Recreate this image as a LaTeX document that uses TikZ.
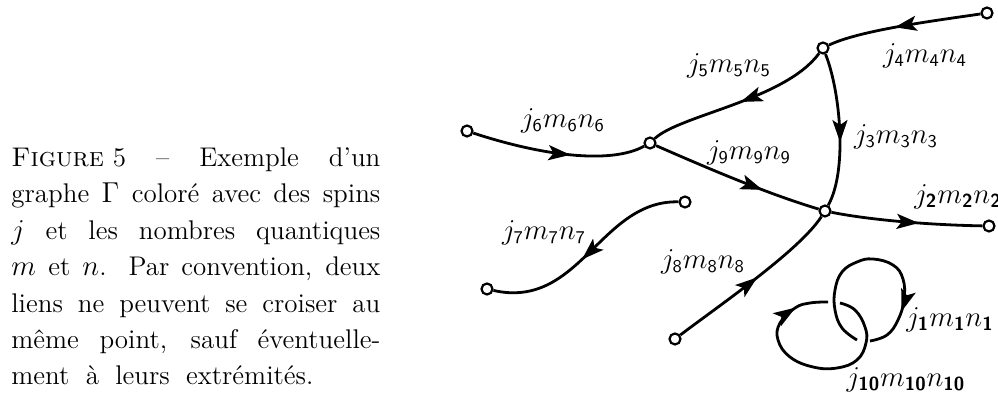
\documentclass[tikz,border=0pt]{standalone}
\usepackage{amsmath}
\usetikzlibrary{arrows.meta,decorations.markings}
\newcommand{\bsf}[1]{\text{\sffamily\bfseries #1}}
\tikzset{
  edge/.style={line width=1.4pt},
  vtx/.style={circle, draw, fill=white, line width=1.1pt, inner sep=0pt, minimum size=5.5pt},
  midarrow/.style={postaction={decorate}, decoration={markings, mark=at position #1 with {\arrow{Stealth[length=11pt,width=7.5pt,inset=2.5pt]}}}},
  lab/.style={inner sep=0pt, font=\fontsize{13.5pt}{16pt}\selectfont},
  capline/.style={anchor=base west, inner sep=0pt, font=\fontsize{13.5pt}{18pt}\selectfont}
}
\begin{document}
\begin{tikzpicture}[x=0.5pt,y=-0.5pt]
\useasboundingbox (0,0) rectangle (998,399);
% caption
\node[capline] (c1) at (11,167) {\makebox[184.5pt][s]{\mbox{\textsc{Figure} 5} -- Exemple d’un}};
\node[capline] (c2) at (11,203) {\makebox[184.5pt][s]{graphe $\Gamma$ coloré avec des spins}};
\node[capline] (c3) at (11,240) {\makebox[184.5pt][s]{$j$ et les nombres quantiques}};
\node[capline] (c4) at (11,276) {\makebox[184.5pt][s]{$m$ et $n$. Par convention, deux}};
\node[capline] (c5) at (11,313) {\makebox[184.5pt][s]{liens ne peuvent se croiser au}};
\node[capline] (c6) at (11,349) {\makebox[184.5pt][s]{même point, sauf éventuelle-}};
\node[capline] (c7) at (11,385) {\makebox[151pt][s]{ment à leurs extrémités.}};
% vertices
\node[vtx] (A) at (467,131) {};
\node[vtx] (B) at (650,143) {};
\node[vtx] (C) at (823,48) {};
\node[vtx] (D) at (987,13) {};
\node[vtx] (E) at (825,211) {};
\node[vtx] (F) at (989,226) {};
\node[vtx] (G) at (685,202) {};
\node[vtx] (H) at (487,289) {};
\node[vtx] (I) at (675,339) {};
% edges
\draw[edge, midarrow=0.57] (A) .. controls (540,155) and (610,165) .. (B);
\draw[edge, midarrow=0.5] (C) .. controls (785,100) and (680,115) .. (B);
\draw[edge, midarrow=0.56] (D) .. controls (940,20) and (860,30) .. (C);
\draw[edge, midarrow=0.58] (C) .. controls (840,90) and (848,170) .. (E);
\draw[edge, midarrow=0.66] (B) .. controls (705,167) and (765,193) .. (E);
\draw[edge, midarrow=0.58] (E) .. controls (870,220) and (930,225) .. (F);
\draw[edge, midarrow=0.52] (I) .. controls (720,305) and (800,250) .. (E);
\draw[edge, midarrow=0.54] (G) .. controls (600,200) and (580,310) .. (H);
% linked loops
\draw[edge, midarrow=0.8] plot[smooth, tension=0.7] coordinates {(857,340) (842,328) (835,310) (835,290) (842,272) (857,262) (873,259) (893,265) (903,279) (904,300) (898,320) (887,335) (870,341)};
\draw[edge, midarrow=0.86] plot[smooth, tension=0.7] coordinates {(840,303) (855,310) (865,327) (866,343) (857,360) (837,368) (813,367) (790,357) (778,340) (780,323) (795,308) (810,303) (828,302)};
% labels
\node[lab] (l6) at (563,121) {$j_{\mathsf{6}}m_{\mathsf{6}}n_{\mathsf{6}}$};
\node[lab] (l5) at (729,66) {$j_{\mathsf{5}}m_{\mathsf{5}}n_{\mathsf{5}}$};
\node[lab] (l4) at (925,56) {$j_{\mathsf{4}}m_{\mathsf{4}}n_{\mathsf{4}}$};
\node[lab] (l3) at (896,137) {$j_{\mathsf{3}}m_{\mathsf{3}}n_{\mathsf{3}}$};
\node[lab] (l9) at (749,153) {$j_{\mathsf{9}}m_{\mathsf{9}}n_{\mathsf{9}}$};
\node[lab] (l2) at (958,197) {$j_{\bsf{2}}m_{\bsf{2}}n_{\bsf{2}}$};
\node[lab] (l7) at (544,233) {$j_{\mathsf{7}}m_{\mathsf{7}}n_{\mathsf{7}}$};
\node[lab] (l8) at (703,262) {$j_{\mathsf{8}}m_{\mathsf{8}}n_{\mathsf{8}}$};
\node[lab] (l1) at (950,320) {$j_{\bsf{1}}m_{\bsf{1}}n_{\bsf{1}}$};
\node[lab] (l10) at (906,380) {$j_{\bsf{10}}m_{\bsf{10}}n_{\bsf{10}}$};
\end{tikzpicture}
\end{document}
